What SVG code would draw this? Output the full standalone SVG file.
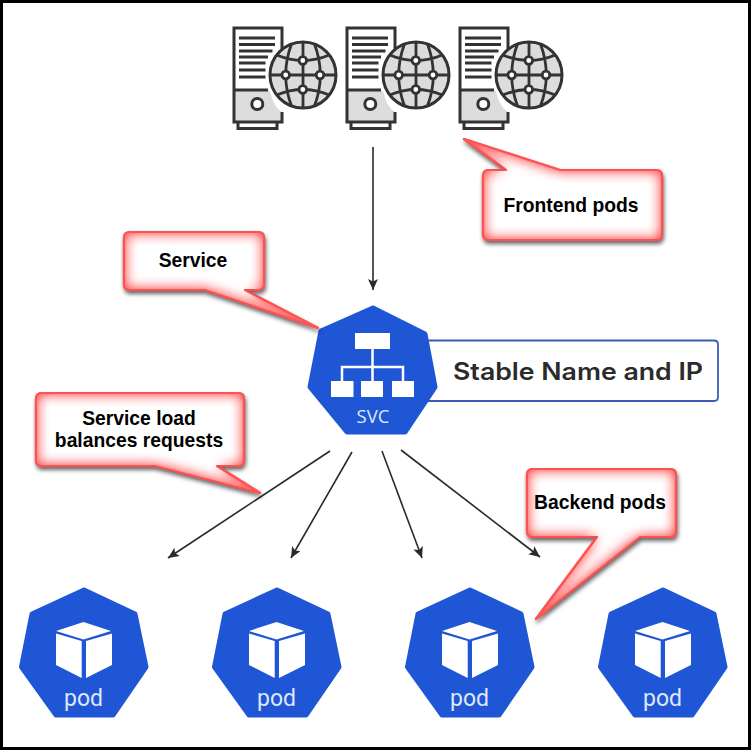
<svg xmlns="http://www.w3.org/2000/svg" width="751" height="750" viewBox="0 0 751 750">
<style>
.callout{fill:#fff;stroke:#fb4a4a;stroke-width:2.200;stroke-linejoin:round;filter:url(#glow)}
.ct{font-family:"Liberation Sans",Arial,sans-serif;font-weight:700;font-size:19.300px;fill:#000;text-anchor:middle}
.hept{fill:#1e56d6;stroke:#1e56d6;stroke-width:5;stroke-linejoin:round}
.ln{stroke:#2a2a2a;stroke-width:1.600;fill:none;marker-end:url(#ah)}
.podt{font-family:Roboto,"Noto Sans",sans-serif;font-size:23px;fill:#dfe8fb;text-anchor:middle}
.k{fill:none;stroke:#333;stroke-width:3}
.g{fill:#dcdcdc}
</style>
<defs>
<marker id="ah" markerUnits="userSpaceOnUse" markerWidth="12" markerHeight="12" refX="11" refY="5" orient="auto"><path d="M0 0L11 5L0 10L2.500 5Z" fill="#2a2a2a"/></marker>
<filter id="glow" x="-20%" y="-20%" width="140%" height="140%" color-interpolation-filters="sRGB">
<feFlood flood-color="#f55" result="f"/>
<feComposite in="f" in2="SourceAlpha" operator="out" result="o"/>
<feGaussianBlur in="o" stdDeviation="7" result="b"/>
<feComposite in="b" in2="SourceAlpha" operator="in" result="inner"/>
<feGaussianBlur in="SourceAlpha" stdDeviation="2" result="s"/>
<feOffset in="s" dx="1" dy="3" result="so"/>
<feFlood flood-color="#000" flood-opacity=".6"/>
<feComposite in2="so" operator="in" result="shadow"/>
<feMerge><feMergeNode in="shadow"/><feMergeNode in="SourceGraphic"/><feMergeNode in="inner"/><feMergeNode in="inner"/></feMerge>
</filter>
<g id="server">
<path class="g" d="M235 91H270Q274 108 282 112V121H235Z"/>
<path d="M282 57V28H234V122H282V112" class="k"/>
<path d="M234 90H268M238 123V128.500H277V123" class="k"/>
<path d="M239 38H275M239 44.500H275M239 51H272.500M239 57H268M239 63H265.500M239 70H265.500M239 77H265.500" fill="none" stroke="#333" stroke-width="2.800"/>
<circle cx="257.300" cy="104" r="5.500" fill="#fff" stroke="#333" stroke-width="3"/>
<circle cx="303" cy="75" r="33" fill="#dcdcdc" stroke="#333" stroke-width="3"/>
<path d="M303 42V108M270 75H336M291.700 43.500Q279.700 75 291.700 106.500M314.300 43.500Q326.300 75 314.300 106.500M276.700 55Q303 66 329.300 55M276.700 95Q303 84 329.300 95" fill="none" stroke="#333" stroke-width="2.800"/>
<g fill="#fff" stroke="#333" stroke-width="2.800"><circle cx="302.800" cy="60.500" r="3.800"/><circle cx="302.800" cy="89.500" r="3.800"/><circle cx="285.700" cy="75" r="3.800"/><circle cx="320" cy="75" r="3.800"/></g>
</g>
<g id="pod">
<path class="hept" d="M84 590L135 614L146 667L113 715H56L21.500 667L32 614Z"/>
<path d="M83.500 622L111 631L83.500 639.500L56 631Z" fill="#fff"/>
<path d="M56 633.500L81.700 641V678L56 665ZM112 633.500L86 641V678L112 665Z" fill="#fff"/>
<text class="podt" x="83.500" y="705.500">pod</text>
</g>
</defs>
<rect x="1.500" y="1.500" width="748" height="747" fill="#fff"/>
<path d="M0 0H751V750H0ZM3 3V747H748V3Z" fill="#000" fill-rule="evenodd"/>
<g id="frontend-pods">
<use href="#server"/>
<use href="#server" x="113"/>
<use href="#server" x="226"/>
</g>
<g id="connectors">
<line class="ln" x1="373" y1="147" x2="373" y2="290"/>
<line class="ln" x1="330" y1="451" x2="168" y2="558"/>
<line class="ln" x1="352" y1="452" x2="291" y2="558"/>
<line class="ln" x1="382" y1="451" x2="422" y2="558"/>
<line class="ln" x1="401" y1="450" x2="540" y2="557"/>
</g>
<g id="stable-name">
<path d="M425 340.500H714Q718 340.500 718 344.500V397Q718 401 714 401H425" fill="#fff" stroke="#3a5cb8" stroke-width="1.800"/>
<text x="453" y="380" font-family="Inter,'Open Sans',sans-serif" font-weight="600" font-size="24" fill="#2b2b2b" textLength="250" lengthAdjust="spacingAndGlyphs">Stable Name and IP</text>
</g>
<g id="svc">
<path class="hept" d="M373 308L425 334L435 387L405 432H347L310 387L321 331Z"/>
<g fill="#fff">
<rect x="355" y="333" width="35" height="16"/>
<rect x="331" y="381" width="22.500" height="16"/>
<rect x="361" y="381" width="22" height="16"/>
<rect x="392" y="381" width="22" height="16"/>
</g>
<path d="M372.500 349V381M342 381V367H403V381" fill="none" stroke="#fff" stroke-width="2.500"/>
<text x="373" y="423" font-family="'Open Sans','Noto Sans',sans-serif" font-size="18.500" fill="#dfe8fb" text-anchor="middle">SVC</text>
</g>
<g id="pod-1"><use href="#pod"/></g>
<g id="pod-2"><use href="#pod" x="193"/></g>
<g id="pod-3"><use href="#pod" x="386"/></g>
<g id="pod-4"><use href="#pod" x="579"/></g>
<g id="callout-frontend">
<path class="callout" d="M464 139L560 170H656Q662 170 662 176V234Q662 240 656 240H489Q483 240 483 234V176Q483 170 489 170H506Z"/>
<text class="ct" x="571" y="212">Frontend pods</text>
</g>
<g id="callout-service">
<path class="callout" d="M130 232H258Q264 232 264 238V284Q264 290 258 290H245L318 328L205 290H130Q124 290 124 284V238Q124 232 130 232Z"/>
<text class="ct" x="193" y="267">Service</text>
</g>
<g id="callout-lb">
<path class="callout" d="M42 393H238Q244 393 244 399V460Q244 466 238 466H217L260 493L155 466H42Q36 466 36 460V399Q36 393 42 393Z"/>
<text class="ct" x="139" y="425">Service load</text>
<text class="ct" x="139" y="447">balances requests</text>
</g>
<g id="callout-backend">
<path class="callout" d="M533 469H670Q676 469 676 475V531Q676 537 670 537H640L536 619L597 537H533Q527 537 527 531V475Q527 469 533 469Z"/>
<text class="ct" x="600" y="509">Backend pods</text>
</g>
</svg>
